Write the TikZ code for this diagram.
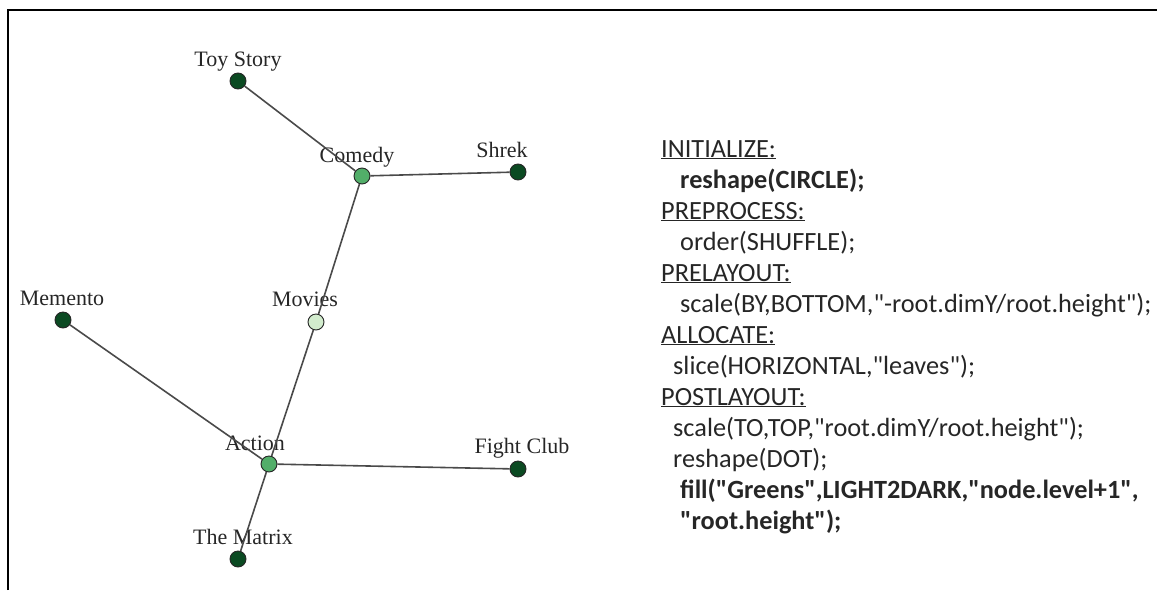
\documentclass[tikz,border=0pt]{standalone}
\usepackage{fontspec}
\setmainfont{Liberation Serif}
\newfontfamily\codefont{Carlito}
\usepackage{xcolor}
\usepackage{tikz}

\definecolor{leafgreen}{HTML}{0B4A22}
\definecolor{midgreen}{HTML}{52AE69}
\definecolor{rootgreen}{HTML}{D2ECCD}
\definecolor{edgegray}{HTML}{4A4A4A}

\begin{document}
\begin{tikzpicture}[x=1pt, y=-1pt,
  dot/.style={circle, draw=black!85, line width=0.9pt, minimum size=16pt, inner sep=0pt},
  leaf/.style={dot, fill=leafgreen},
  inner/.style={dot, fill=midgreen},
  root/.style={dot, fill=rootgreen},
  lbl/.style={anchor=base, inner sep=0pt, text=black!85, font=\fontsize{22}{26}\selectfont},
  link/.style={edgegray, line width=1.6pt},
  code/.style={anchor=base west, inner sep=0pt, align=left, text=black!85,
    font=\codefont\fontsize{26.3}{31}\selectfont}]
\useasboundingbox (0,0) rectangle (1157,590);
\draw[line width=2pt] (8,590) -- (8,10) -- (1157,10);

% tree
\node[root]  (movies)  at (316,322) {};
\node[inner] (comedy)  at (362,176) {};
\node[inner] (action)  at (269,464) {};
\node[leaf]  (toy)     at (238,81)  {};
\node[leaf]  (shrek)   at (518,172) {};
\node[leaf]  (memento) at (63,320)  {};
\node[leaf]  (fight)   at (518,469) {};
\node[leaf]  (matrix)  at (238,559) {};

\node[lbl] (moviesT)  at (305,306) {Movies};
\node[lbl] (comedyT)  at (357,162) {Comedy};
\node[lbl] (actionT)  at (255,450) {Action};
\node[lbl] (toyT)     at (238,66)  {Toy Story};
\node[lbl] (shrekT)   at (502,157) {Shrek};
\node[lbl] (mementoT) at (62,305)  {Memento};
\node[lbl] (fightT)   at (522,453) {Fight Club};
\node[lbl] (matrixT)  at (243,544) {The Matrix};

\draw[link] (comedy) -- (toy);
\draw[link] (comedy) -- (shrek);
\draw[link] (comedy) -- (movies);
\draw[link] (movies) -- (action);
\draw[link] (action) -- (memento);
\draw[link] (action) -- (fight);
\draw[link] (action) -- (matrix);

% layout program (anchored at the last line)
\node[code] (prog) at (661,529) {%
\underline{INITIALIZE:}\\
\hspace*{19pt}\textbf{reshape(CIRCLE);}\\
\underline{PREPROCESS:}\\
\hspace*{19pt}order(SHUFFLE);\\
\underline{PRELAYOUT:}\\
\hspace*{19pt}scale(BY,BOTTOM,"-root.dimY/root.height");\\
\underline{ALLOCATE:}\\
\hspace*{12pt}slice(HORIZONTAL,"leaves");\\
\underline{POSTLAYOUT:}\\
\hspace*{12pt}scale(TO,TOP,"root.dimY/root.height");\\
\hspace*{12pt}reshape(DOT);\\
\hspace*{19pt}\textbf{fill("Greens",LIGHT2DARK,"node.level+1",}\\
\hspace*{19pt}\textbf{"root.height");}};
\end{tikzpicture}
\end{document}
